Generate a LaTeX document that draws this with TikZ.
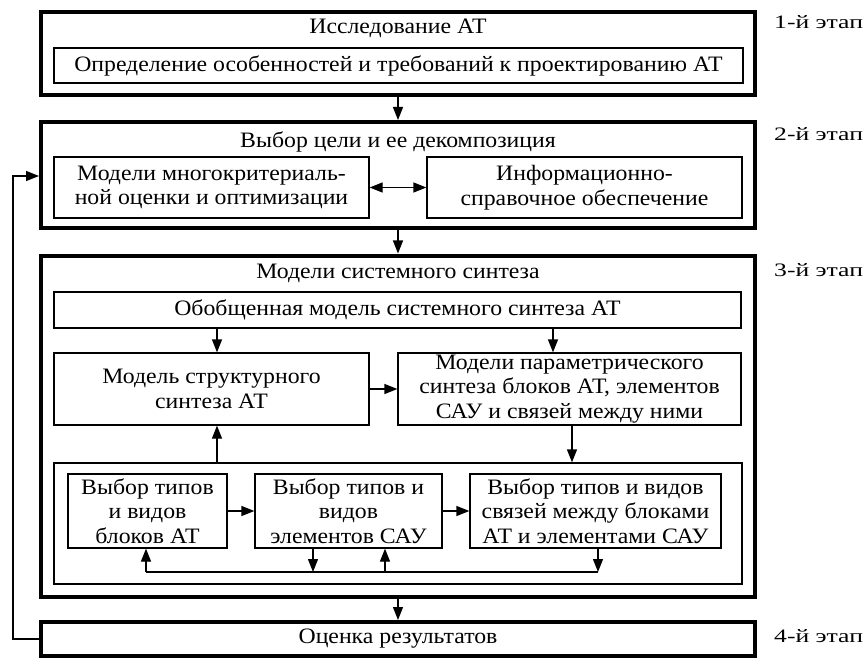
\documentclass[tikz,border=0pt]{standalone}
\usepackage{fontspec}
\setmainfont{Liberation Serif}[FakeStretch=1.08]
\newfontfamily\stagefont{Liberation Serif}[FakeStretch=1.35]
\usetikzlibrary{arrows.meta,calc}
\begin{document}
\begin{tikzpicture}[x=1pt,y=-1pt,
  thickbox/.style={draw,line width=4pt,inner sep=0pt,rectangle},
  thinbox/.style={draw,line width=1.2pt,inner sep=0pt,rectangle,align=center,font=\fontsize{22}{24.5}\selectfont},
  ttl/.style={inner sep=0pt,font=\fontsize{22}{24.5}\selectfont},
  stage/.style={inner sep=0pt,anchor=west,font=\stagefont\fontsize{19}{22}\selectfont},
  arr/.style={line width=1.2pt,-{Triangle[length=13pt,width=10pt]}},
  darr/.style={line width=1.2pt,{Triangle[length=13pt,width=10pt]}-{Triangle[length=13pt,width=10pt]}},
  ln/.style={line width=1.2pt}]
\useasboundingbox (0,0) rectangle (863,658);
% stage 1
\node[thickbox,minimum width=714pt,minimum height=83.5pt] (s1) at (398,53.5) {};
\node[ttl] (t1) at (398,28) {Исследование АТ};
\node[thinbox,minimum width=689pt,minimum height=35pt] (d1) at (398.5,65.5) {Определение особенностей и требований к проектированию АТ};
\node[stage] (e1) at (774,22) {1-й этап};
% stage 2
\node[thickbox,minimum width=714pt,minimum height=106pt] (s2) at (398,175) {};
\node[ttl] (t2) at (398,142) {Выбор цели и ее декомпозиция};
\node[thinbox,minimum width=315pt,minimum height=61pt] (m1) at (211.5,187.5) {Модели многокритериаль-\\ной оценки и оптимизации};
\node[thinbox,minimum width=315pt,minimum height=61pt] (m2) at (584.5,187.5) {Информационно-\\справочное обеспечение};
\node[stage] (e2) at (774,134) {2-й этап};
% stage 3
\node[thickbox,minimum width=714pt,minimum height=341pt] (s3) at (398,426) {};
\node[ttl] (t3) at (398,273) {Модели системного синтеза};
\node[thinbox,minimum width=687pt,minimum height=36pt] (gen) at (397.5,310) {Обобщенная модель системного синтеза АТ};
\node[thinbox,minimum width=315pt,minimum height=72pt] (st) at (211.5,389) {Модель структурного\\синтеза АТ};
\node[thinbox,minimum width=343pt,minimum height=72pt] (par) at (569.5,389) {Модели параметрического\\синтеза блоков АТ, элементов\\САУ и связей между ними};
\node[thinbox,minimum width=688pt,minimum height=121pt] (cont) at (398,523.5) {};
\node[thinbox,minimum width=159pt,minimum height=74pt] (ba) at (147.5,511) {Выбор типов\\и видов\\блоков АТ};
\node[thinbox,minimum width=187pt,minimum height=74pt] (bb) at (348.5,511) {Выбор типов и\\видов\\элементов САУ};
\node[thinbox,minimum width=251pt,minimum height=74pt] (bc) at (595.5,511) {Выбор типов и видов\\связей между блоками\\АТ и элементами САУ};
\node[stage] (e3) at (774,270) {3-й этап};
% stage 4
\node[thickbox,minimum width=714pt,minimum height=34pt] (s4) at (398,639) {};
\node[ttl] (t4) at (398,639) {Оценка результатов};
\node[stage] (e4) at (774,636) {4-й этап};
% coordinates
\coordinate (xg1) at (217,0);
\coordinate (xg2) at (553,0);
\coordinate (xp) at (572,0);
\coordinate (xa) at (146,0);
\coordinate (xb1) at (313,0);
\coordinate (xb2) at (385,0);
\coordinate (xc) at (598,0);
\coordinate (bus) at (0,572);
\coordinate (fb) at (13,176);
% connectors
\draw[arr] (s1.south) -- (s2.north);
\draw[arr] (s2.south) -- (s3.north);
\draw[arr] (s3.south) -- (s4.north);
\draw[darr] (m1.east) -- (m2.west);
\draw[arr] (s4.west) -| (fb) -- (fb -| s2.west);
\draw[arr] (gen.south -| xg1) -- (st.north -| xg1);
\draw[arr] (gen.south -| xg2) -- (par.north -| xg2);
\draw[arr] (st.east) -- (st.east -| par.west);
\draw[arr] (par.south -| xp) -- (cont.north -| xp);
\draw[arr] (cont.north -| xg1) -- (st.south -| xg1);
\draw[arr] (ba.east) -- (bb.west);
\draw[arr] (bb.east) -- (bc.west);
\draw[ln] (bus -| xa) -- (bus -| xc);
\draw[arr] (bus -| xa) -- (ba.south -| xa);
\draw[arr] (bb.south -| xb1) -- (bus -| xb1);
\draw[arr] (bus -| xb2) -- (bb.south -| xb2);
\draw[arr] (bc.south -| xc) -- (bus -| xc);
\end{tikzpicture}
\end{document}
